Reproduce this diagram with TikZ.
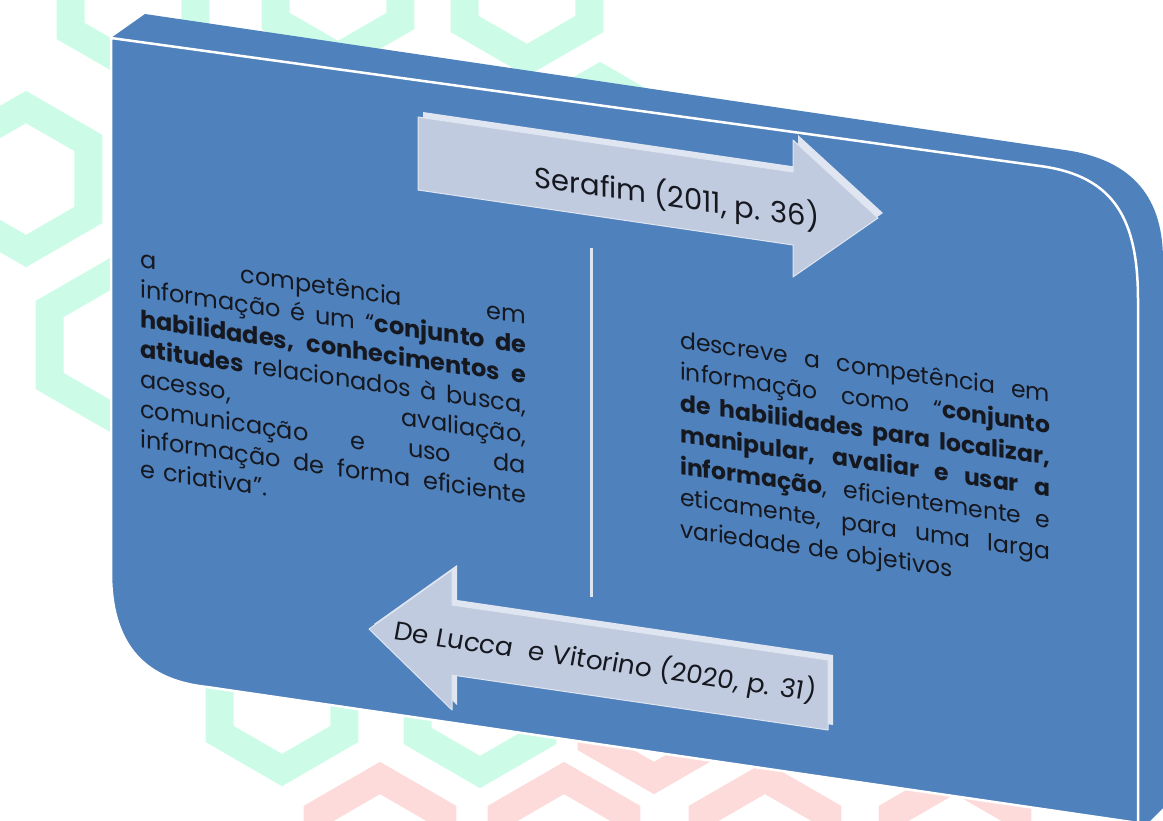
\documentclass[tikz,border=0pt]{standalone}
\usepackage{fontspec}
\setmainfont{Poppins}

\definecolor{slab}{RGB}{79,129,189}
\definecolor{arrowfill}{RGB}{192,203,223}
\definecolor{arrowedge}{RGB}{224,230,241}
\definecolor{mintbg}{RGB}{204,252,232}
\definecolor{pinkbg}{RGB}{253,219,219}
\definecolor{inktext}{RGB}{22,24,32}

\newcommand{\fullline}[1]{\hbox to \hsize{\spaceskip=.28em plus 1fil #1}}
\newcommand{\hexcell}[3]{\draw[#1] (#2,#3) +(30:72) -- +(90:72) -- +(150:72) -- +(210:72) -- +(270:72) -- +(330:72) -- cycle;}

\begin{document}
\begin{tikzpicture}[x=1pt,y=-1pt,
  hexmint/.style={draw=mintbg,line width=28pt},
  hexpink/.style={draw=pinkbg,line width=28pt},
  facebox/.style={fill=slab,draw=white,line width=2.5pt,line join=round},
  arrowbody/.style={fill=arrowfill,draw=arrowedge,line width=1pt,line join=round},
  arrowdepth/.style={fill=arrowedge},
  divline/.style={draw=arrowedge,line width=3pt},
  blocktext/.style={text=inktext,inner sep=0pt,anchor=north west,align=left,yslant=-0.146},
  citetext/.style={text=inktext,inner sep=0pt,yslant=-0.146}]

\clip (0,0) rectangle (1163,821);

% background cells
\hexcell{hexmint}{26}{179}
\hexcell{hexmint}{112}{345}
\hexcell{hexmint}{133}{-5}
\hexcell{hexmint}{338}{-15}
\hexcell{hexmint}{527}{-12}
\hexcell{hexmint}{600}{150}
\hexcell{hexmint}{282}{698}
\hexcell{hexmint}{480}{700}
\hexcell{hexpink}{654}{706}
\hexcell{hexpink}{380}{850}
\hexcell{hexpink}{564}{850}
\hexcell{hexpink}{765}{850}
\hexcell{hexpink}{955}{850}

% slab: depth, then front face
\path[fill=slab] (111,38) -- (145,14) -- (1065,150) .. controls (1135,160) and (1163,200) .. (1163,260)
  -- (1163,808) -- (1150,821) -- (1138,821) -- (1138,300) -- (1040,166) -- cycle;
\path[facebox] (111,38) -- (1040,166) .. controls (1115,176) and (1138,220) .. (1138,300)
  -- (1138,823) -- (207,687) .. controls (140,680) and (111,640) .. (111,573) -- cycle;

\coordinate (divtop) at (591,248);
\coordinate (divbot) at (591,597);
\draw[divline] (divtop) -- (divbot);

% right arrow
\path[arrowdepth,shift={(5,-5)}] (418,117) -- (793,172) -- (793,140) -- (878,218) -- (793,277) -- (793,245) -- (418,190) -- cycle;
\path[arrowbody] (418,117) -- (793,172) -- (793,140) -- (878,218) -- (793,277) -- (793,245) -- (418,190) -- cycle;
\node[citetext,font=\fontsize{29}{34}\selectfont] (serafim) at (677,198) {Serafim (2011, p. 36)};

% left arrow
\path[arrowdepth,shift={(5,-5)}] (369,629) -- (452,570) -- (452,605) -- (828,660) -- (828,730) -- (452,675) -- (452,710) -- cycle;
\path[arrowbody] (369,629) -- (452,570) -- (452,605) -- (828,660) -- (828,730) -- (452,675) -- (452,710) -- cycle;
\node[citetext,font=\itshape\fontsize{26}{30}\selectfont] (delucca) at (605,662) {De Lucca\ \ e Vitorino (2020, p. 31)};

\node[blocktext,text width=386pt,font=\fontsize{24}{30}\selectfont] (lefttext) at (140,249) {%
\fullline{a competência em}
\fullline{informação é um “\textbf{conjunto de}}
\fullline{\textbf{habilidades, conhecimentos e}}
\fullline{\textbf{atitudes} relacionados à busca,}
\fullline{acesso, avaliação,}
\fullline{comunicação e uso da}
\fullline{informação de forma eficiente}
\hbox{e criativa”.}};

\node[blocktext,text width=370pt,font=\fontsize{23.5}{31.5}\selectfont] (righttext) at (680,330) {%
\fullline{descreve a competência em}
\fullline{informação como “\textbf{conjunto}}
\fullline{\textbf{de habilidades para localizar,}}
\fullline{\textbf{manipular, avaliar e usar a}}
\fullline{\textbf{informação}, eficientemente e}
\fullline{eticamente, para uma larga}
\hbox{variedade de objetivos}};
\end{tikzpicture}
\end{document}
